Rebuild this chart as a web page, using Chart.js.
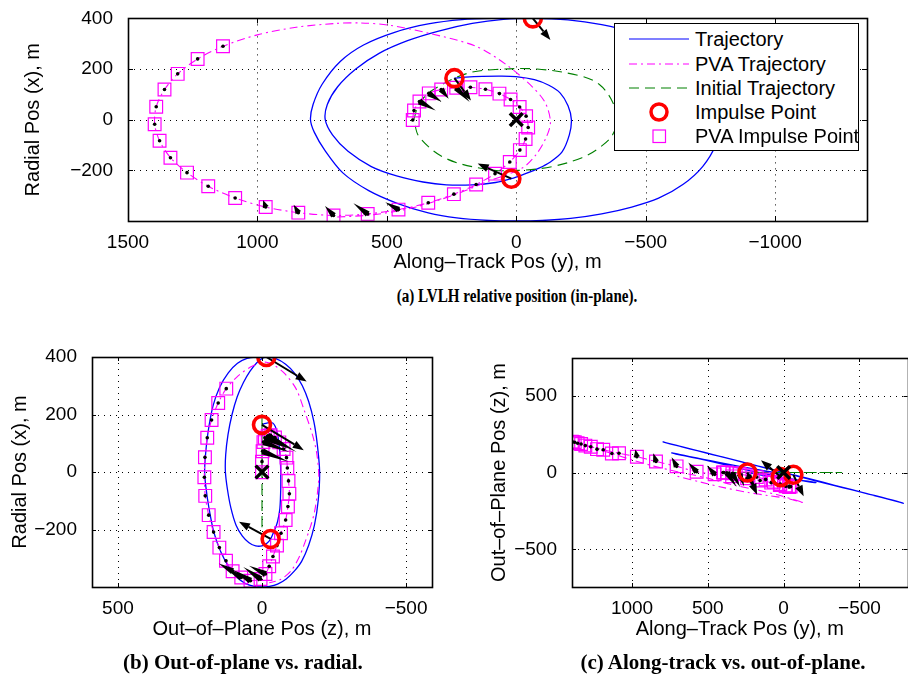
<!DOCTYPE html>
<html>
<head>
<meta charset="utf-8">
<script src="https://cdn.jsdelivr.net/npm/chart.js@4.4.0/dist/chart.umd.min.js"></script>
<style>
html,body{margin:0;padding:0;background:#fff;}
#wrap{position:relative;width:908px;height:677px;overflow:hidden;background:#fff;}
canvas{position:absolute;}
.cap{position:absolute;font-family:'Liberation Serif','Times New Roman',serif;font-weight:bold;white-space:nowrap;color:#000;}
#legend{position:absolute;left:614px;top:23px;width:243px;height:126px;border:1.5px solid #000;background:#fff;font-family:'Liberation Sans',Arial,sans-serif;font-size:20px;color:#000;}
.row{position:absolute;left:0;width:100%;height:24px;}
.row svg{position:absolute;left:13px;top:0;}
.row span{position:absolute;left:80px;top:0;line-height:24px;white-space:nowrap;}
</style>
</head>
<body>
<div id="wrap">
  <canvas id="cA" width="908" height="280" style="left:0;top:0"></canvas>
  <canvas id="cB" width="450" height="320" style="left:0;top:330px"></canvas>
  <canvas id="cC" width="470" height="320" style="left:450px;top:330px"></canvas>
  <div id="legend">
    <div class="row" style="top:3px"><svg width="62" height="24"><line x1="1" y1="12" x2="61" y2="12" stroke="#0000ff" stroke-width="1.2"/></svg><span>Trajectory</span></div>
    <div class="row" style="top:27.5px"><svg width="62" height="24"><line x1="1" y1="12" x2="61" y2="12" stroke="#ff00ff" stroke-width="1.2" stroke-dasharray="8 4 2 4"/></svg><span>PVA Trajectory</span></div>
    <div class="row" style="top:52px"><svg width="62" height="24"><line x1="1" y1="12" x2="61" y2="12" stroke="#008000" stroke-width="1.2" stroke-dasharray="10 6"/></svg><span>Initial Trajectory</span></div>
    <div class="row" style="top:76px"><svg width="62" height="24"><circle cx="31" cy="12" r="8" stroke="#ff0000" stroke-width="3.5" fill="none"/></svg><span>Impulse Point</span></div>
    <div class="row" style="top:100px"><svg width="62" height="24"><rect x="25" y="6" width="12.5" height="12.5" stroke="#ff00ff" stroke-width="1.2" fill="none"/></svg><span>PVA Impulse Point</span></div>
  </div>
  <div class="cap" style="left:517px;top:296px;font-size:18px;transform:translate(-50%,-50%) scaleX(0.84)">(a) LVLH relative position (in-plane).</div>
  <div class="cap" style="left:243px;top:662px;font-size:21px;transform:translate(-50%,-50%)">(b) Out-of-plane vs. radial.</div>
  <div class="cap" style="left:723px;top:662px;font-size:21px;transform:translate(-50%,-50%)">(c) Along-track vs. out-of-plane.</div>
</div>
<script>
// ===== DATA (metres): along-track (y), radial (x), out-of-plane (z) =====
// Blue "Trajectory"
const trajAlong  = [239,195,131,60,2,-70,-126,-170,-200,-213,-205,-177,-130,-88,-30,19,
                    80,169,270,360,459,560,650,710,738,730,690,620,530,420,300,170,50,-64,
                    -200,-330,-450,-560,-650,-720,-765,-790,-770,-720,-645,-550,-446,-330,-210,-100,0,105,230,340,460,570,670,740,780,795,785,750,680,590,470,340,210,80,-30];
const trajRadial = [164,168,171,172,170,158,136,105,55,0,-60,-127,-168,-191,-215,-233,
                    -248,-257,-257,-246,-223,-185,-125,-60,0,60,130,200,262,312,350,380,396,400,
                    394,375,345,300,245,175,95,0,-100,-185,-255,-310,-345,-372,-390,-398,-400,-398,-388,-368,-330,-280,-210,-120,-50,0,60,140,230,295,345,378,395,400,400];
const trajOut    = [0,-8,-20,-30,-38,-46,-53,-58,-63,-65,-65,-62,-55,-48,-38,-30,
                    -17,0,22,45,68,90,108,120,127,126,118,104,86,64,42,18,-2,-15,
                    -48,-82,-112,-140,-162,-180,-192,-200,-195,-182,-162,-138,-112,-84,-54,-26,0,26,57,85,115,142,167,185,195,199,196,187,170,147,117,85,52,20,-8];

// Magenta squares "PVA Impulse Point" (also first pass of PVA trajectory)
const pvaImpAlong  = [400,395,374,338,290,232,177,119,65,22,-13,-38,-46,-36,-14,25,82,155,241,340,455,574,706,842,968,1086,1190,1272,1336,1378,1397,1391,1359,1308,1231,1133];
const pvaImpRadial = [-1,36,72,104,119,126,128,120,103,80,50,14,-31,-76,-120,-167,-213,-256,-294,-328,-355,-372,-378,-367,-345,-309,-263,-209,-150,-83,-18,51,119,181,240,290];
const pvaImpOut    = [0,0,-2,-5,-10,-20,-30,-45,-60,-75,-85,-88,-92,-95,-90,-82,-66,-52,-38,-25,-12,5,40,72,102,125,148,168,185,197,200,198,190,175,152,124];

// Rest of the PVA trajectory after the last PVA impulse point
const pvaTailAlong  = [1000,850,700,600,490,336,156,41,-62,-113,-132,-113,-75,-23,105,233,387,550,700];
const pvaTailRadial = [335,365,380,382,373,341,290,219,130,65,-12,-76,-140,-191,-242,-294,-345,-375,-385];
const pvaTailOut    = [82,40,5,-15,-40,-80,-118,-145,-175,-190,-197,-192,-182,-168,-150,-130,-100,-62,-25];

// Green "Initial Trajectory" (in-plane)
const initAlong  = [396,374,323,195,80,-80,-243,-320,-372,-386,-372,-322,-254,-139,-10,105,272,374,396];
const initRadial = [0,65,117,181,198,200,174,140,70,0,-60,-110,-150,-185,-200,-197,-153,-69,0];
const initOut    = [0,0,0,0,0,0,0,0,0,0,0,0,0,0,0,0,0,0,0];

// Red circles "Impulse Point"
const impAlong  = [239,19,-64];
const impRadial = [164,-233,400];
const impOut    = [0,-30,-15];

// Target (black X)
const tgtAlong = [0], tgtRadial = [0], tgtOut = [0];

// Thrust arrows: tail and tip, kind
const arrTailAlong  = [239,19,-64,374,338,290,232,968,842,706,574,455];
const arrTailRadial = [164,-233,400,72,104,119,126,-345,-367,-378,-372,-355];
const arrTailOut    = [0,-30,-15,-2,-5,-10,-20,102,72,40,5,-12];
const arrTipAlong   = [175,149,-132,311,287,261,180,978,860,739,629,506];
const arrTipRadial  = [76,-173,315,36,70,83,70,-318,-336,-341,-330,-326];
const arrTipOut     = [-145,80,-155,-92,-95,-90,-120,150,125,100,65,45];
const arrKind       = ['imp','imp','imp','pva','pva','pva','pva','pva','pva','pva','pva','pva'];

// Tick values
const ticksAx = [-1000,-500,0,500,1000,1500];
const ticksAy = [-200,0,200,400];
const ticksBx = [-500,0,500];
const ticksBy = [-200,0,200,400];
const ticksCx = [-500,0,500,1000];
const ticksCy = [-500,0,500];

// ===== helpers =====
const SER = {
  traj:  {along: trajAlong, radial: trajRadial, out: trajOut},
  pva:   {along: pvaImpAlong.concat(pvaTailAlong), radial: pvaImpRadial.concat(pvaTailRadial), out: pvaImpOut.concat(pvaTailOut)},
  init:  {along: initAlong, radial: initRadial, out: initOut},
  imp:   {along: impAlong, radial: impRadial, out: impOut},
  pvaImp:{along: pvaImpAlong, radial: pvaImpRadial, out: pvaImpOut},
  tgt:   {along: tgtAlong, radial: tgtRadial, out: tgtOut},
  tail:  {along: arrTailAlong, radial: arrTailRadial, out: arrTailOut},
  tip:   {along: arrTipAlong, radial: arrTipRadial, out: arrTipOut}
};
function proj(s, h, v){ return s[h].map((val,i)=>({x: val, y: s[v][i]})); }
const fmt = v => (v < 0 ? '\u2212' + Math.abs(v) : String(v));
const FONT = "'Liberation Sans', Arial, Helvetica, sans-serif";
Chart.defaults.font.family = FONT;
Chart.defaults.color = '#000';

function drawArrows(chart, o){
  const {ctx, chartArea:a, scales:{x, y}} = chart;
  ctx.save();
  ctx.beginPath(); ctx.rect(a.left, a.top, a.right-a.left, a.bottom-a.top); ctx.clip();
  ctx.fillStyle = '#000'; ctx.strokeStyle = '#000'; ctx.setLineDash([]);
  for (let i = 0; i < arrKind.length; i++){
    const x0 = x.getPixelForValue(SER.tail[o.h][i]), y0 = y.getPixelForValue(SER.tail[o.v][i]);
    const x1 = x.getPixelForValue(SER.tip[o.h][i]),  y1 = y.getPixelForValue(SER.tip[o.v][i]);
    const dx = x1-x0, dy = y1-y0, L = Math.hypot(dx, dy);
    if (L < 1) continue;
    const ux = dx/L, uy = dy/L;
    if (arrKind[i] === 'imp'){
      const hl = Math.min(11, L*0.5), hw = 4;
      const bx = x1-ux*hl, by = y1-uy*hl;
      ctx.lineWidth = 2;
      ctx.beginPath(); ctx.moveTo(x0,y0); ctx.lineTo(bx,by); ctx.stroke();
      ctx.beginPath(); ctx.moveTo(x1,y1); ctx.lineTo(bx-uy*hw, by+ux*hw); ctx.lineTo(bx+uy*hw, by-ux*hw); ctx.closePath(); ctx.fill();
    } else {
      const w = 3.1;
      ctx.beginPath(); ctx.moveTo(x1,y1); ctx.lineTo(x0-uy*w, y0+ux*w); ctx.lineTo(x0+uy*w, y0-ux*w); ctx.closePath(); ctx.fill();
    }
  }
  ctx.restore();
}

const framePlugin = {
  id: 'frame',
  beforeDatasetsDraw(chart){
    const {ctx, chartArea:a, scales:{x, y}} = chart;
    ctx.save();
    ctx.strokeStyle = '#000'; ctx.lineWidth = 1; ctx.setLineDash([1,5]);
    x.ticks.forEach(t => { const p = Math.round(x.getPixelForValue(t.value)) + 0.5;
      if (p > a.left+2 && p < a.right-2){ ctx.beginPath(); ctx.moveTo(p, a.top); ctx.lineTo(p, a.bottom); ctx.stroke(); } });
    y.ticks.forEach(t => { const p = Math.round(y.getPixelForValue(t.value)) + 0.5;
      if (p > a.top+2 && p < a.bottom-2){ ctx.beginPath(); ctx.moveTo(a.left, p); ctx.lineTo(a.right, p); ctx.stroke(); } });
    ctx.restore();
  },
  afterDatasetDraw(chart, args, o){ if (args.index === 3) drawArrows(chart, o); },
  afterDraw(chart, args, o){
    const {ctx, chartArea:a, scales:{x, y}} = chart;
    const L = o.tick;
    ctx.save();
    ctx.strokeStyle = '#000'; ctx.setLineDash([]);
    ctx.lineWidth = 1;
    x.ticks.forEach(t => { const p = Math.round(x.getPixelForValue(t.value)) + 0.5;
      if (p > a.left+1 && p < a.right-1){ ctx.beginPath(); ctx.moveTo(p, a.bottom); ctx.lineTo(p, a.bottom-L); ctx.moveTo(p, a.top); ctx.lineTo(p, a.top+L); ctx.stroke(); } });
    y.ticks.forEach(t => { const p = Math.round(y.getPixelForValue(t.value)) + 0.5;
      if (p > a.top+1 && p < a.bottom-1){ ctx.beginPath(); ctx.moveTo(a.left, p); ctx.lineTo(a.left+L, p); ctx.moveTo(a.right, p); ctx.lineTo(a.right-L, p); ctx.stroke(); } });
    ctx.lineWidth = 1.6;
    ctx.strokeRect(Math.round(a.left)+0.5, Math.round(a.top)+0.5, Math.round(a.right-a.left), Math.round(a.bottom-a.top));
    ctx.restore();
  }
};

function makeChart(id, c){
  const h = c.h, v = c.v;
  const datasets = [
    {label:'Target', data: proj(SER.tgt,h,v), showLine:false, pointStyle:'crossRot', pointRadius:9, borderWidth:3.5, borderColor:'#000', backgroundColor:'#000'},
    {label:'Impulse Point', data: proj(SER.imp,h,v), showLine:false, pointStyle:'circle', pointRadius:8.5, borderWidth:3.6, borderColor:'#ff0000', backgroundColor:'rgba(0,0,0,0)'},
    {label:'dots', data: proj(SER.pvaImp,h,v), showLine:false, pointStyle:'circle', pointRadius:1.8, borderWidth:0, backgroundColor:'#000'},
    {label:'PVA Impulse Point', data: proj(SER.pvaImp,h,v), showLine:false, pointStyle:'rect', pointRadius:9, borderWidth:1.2, borderColor:'#ff00ff', backgroundColor:'rgba(0,0,0,0)'},
    {label:'Initial Trajectory', data: proj(SER.init,h,v), showLine:true, pointRadius:0, borderWidth:1.1, borderColor:'#008000', borderDash:[10,6], tension:0.35, fill:false},
    {label:'PVA Trajectory', data: proj(SER.pva,h,v), showLine:true, pointRadius:0, borderWidth:1.1, borderColor:'#ff00ff', borderDash:[8,4,2,4], tension:0.3, fill:false},
    {label:'Trajectory', data: proj(SER.traj,h,v), showLine:true, pointRadius:0, borderWidth:1.3, borderColor:'#0000ff', tension:0.3, fill:false}
  ];
  return new Chart(document.getElementById(id), {
    type: 'scatter',
    data: {datasets},
    options: {
      responsive:false, animation:false, devicePixelRatio:1, events:[],
      layout: {padding: c.pad},
      plugins: {legend:{display:false}, tooltip:{enabled:false}, frame:{h, v, tick:c.tick}},
      scales: {
        x: {type:'linear', min:c.xmin, max:c.xmax, reverse:true,
            afterBuildTicks: s => { s.ticks = c.xt_vals.map(val => ({value: val})); },
            afterFit: s => { s.height = c.xh; },
            grid:{display:false}, border:{display:false},
            ticks:{autoSkip:false, maxRotation:0, minRotation:0, padding:c.xtp, color:'#000', font:{size:19}, callback: fmt},
            title:{display:true, text:c.xt, color:'#000', font:{size:20}, padding:{top:0, bottom:c.xtb}}},
        y: {type:'linear', min:c.ymin, max:c.ymax,
            afterBuildTicks: s => { s.ticks = c.yt_vals.map(val => ({value: val})); },
            afterFit: s => { s.width = c.yw; },
            grid:{display:false}, border:{display:false},
            ticks:{autoSkip:false, padding:7, color:'#000', font:{size:19}, callback: fmt},
            title:{display:true, text:c.yt, color:'#000', font:{size:20}, padding:{top:c.ytp, bottom:0}}}
      }
    },
    plugins:[framePlugin]
  });
}

makeChart('cA', {h:'along', v:'radial', xmin:-1355, xmax:1500, ymin:-400, ymax:400, xt_vals:ticksAx, yt_vals:ticksAy,
  xt:'Along\u2013Track Pos (y), m', yt:'Radial Pos (x), m', pad:{top:13, right:41, bottom:0, left:0},
  yw:128, xh:59, xtp:2, xtb:6, ytp:21, tick:5});
makeChart('cB', {h:'out', v:'radial', xmin:-590, xmax:590, ymin:-400, ymax:400, xt_vals:ticksBx, yt_vals:ticksBy,
  xt:'Out\u2013of\u2013Plane Pos (z), m', yt:'Radial Pos (x), m', pad:{top:27, right:18, bottom:0, left:0},
  yw:92, xh:63, xtp:2, xtb:9, ytp:8, tick:4});
makeChart('cC', {h:'along', v:'out', xmin:-817, xmax:1396, ymin:-745, ymax:745, xt_vals:ticksCx, yt_vals:ticksCy,
  xt:'Along\u2013Track Pos (y), m', yt:'Out\u2013of\u2013Plane Pos (z), m', pad:{top:28, right:6, bottom:0, left:0},
  yw:122, xh:63, xtp:2, xtb:9, ytp:37, tick:4});
</script>
</body>
</html>
